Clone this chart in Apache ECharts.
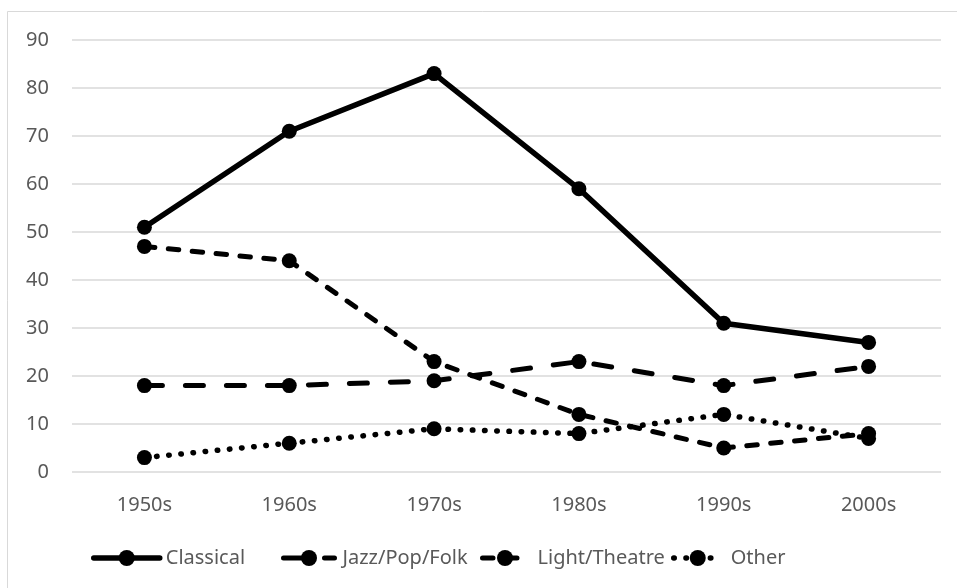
<!DOCTYPE html>
<html>
<head>
<meta charset="utf-8">
<script src="https://cdn.jsdelivr.net/npm/echarts@6/dist/echarts.min.js"></script>
<style>
html,body{margin:0;padding:0;background:#fff;}
#chart{width:957px;height:588px;}
</style>
</head>
<body>
<div id="chart"></div>
<script>
const categories = ['1950s', '1960s', '1970s', '1980s', '1990s', '2000s'];
const classical = [51, 71, 83, 59, 31, 27];
const jazzPopFolk = [18, 18, 19, 23, 18, 22];
const lightTheatre = [47, 44, 23, 12, 5, 8];
const other = [3, 6, 9, 8, 12, 7];
const yTicks = { min: 0, max: 90, interval: 10 };

const FONT = '"Noto Sans", sans-serif';
const TXT = '#595959';

const styles = {
  'Classical': { type: 'solid', width: 5.5 },
  'Jazz/Pop/Folk': { type: [18, 23], width: 5 },
  'Light/Theatre': { type: [10.5, 13.5], width: 5 },
  'Other': { type: [0.5, 11.7], width: 5.5 }
};

function mkSeries(name, data) {
  const s = styles[name];
  return {
    name: name,
    type: 'line',
    data: data,
    symbol: 'circle',
    symbolSize: 15,
    itemStyle: { color: '#000' },
    lineStyle: { color: '#000', width: s.width, type: s.type, cap: 'round', join: 'round' },
    emphasis: { disabled: true },
    animation: false
  };
}

function mkLegend(name, left, w, pad) {
  const s = styles[name];
  return {
    data: [name],
    left: left,
    top: 548,
    padding: 0,
    itemWidth: w,
    itemHeight: 20,
    lineStyle: { width: s.width, type: s.type, cap: 'round', color: '#000' },
    itemStyle: { color: '#000' },
    textStyle: { fontFamily: FONT, fontSize: 20, color: TXT, padding: [0, 0, 0, pad] },
    selectedMode: false
  };
}

const chart = echarts.init(document.getElementById('chart'), null, { renderer: 'canvas' });
chart.setOption({
  backgroundColor: '#fff',
  animation: false,
  graphic: [{
    type: 'rect',
    shape: { x: 7.5, y: 11.5, width: 1200, height: 1200 },
    style: { fill: 'none', stroke: '#d9d9d9', lineWidth: 1 },
    silent: true,
    z: -10
  }],
  grid: { left: 72, right: 16, top: 40, bottom: 116 },
  legend: [
    mkLegend('Classical', 91, 66, 1),
    mkLegend('Jazz/Pop/Folk', 281, 51, 3),
    mkLegend('Light/Theatre', 480, 45, 5),
    mkLegend('Other', 671, 48, 4)
  ],
  xAxis: {
    type: 'category',
    data: categories,
    boundaryGap: true,
    axisLine: { show: false },
    axisTick: { show: false },
    axisLabel: { fontFamily: FONT, fontSize: 20, color: TXT, margin: 23 }
  },
  yAxis: {
    type: 'value',
    min: yTicks.min,
    max: yTicks.max,
    interval: yTicks.interval,
    axisLine: { show: false },
    axisTick: { show: false },
    splitLine: { lineStyle: { color: '#d9d9d9', width: 1.5 } },
    axisLabel: { fontFamily: FONT, fontSize: 20, color: TXT, margin: 23 }
  },
  series: [
    mkSeries('Classical', classical),
    mkSeries('Jazz/Pop/Folk', jazzPopFolk),
    mkSeries('Light/Theatre', lightTheatre),
    mkSeries('Other', other)
  ]
});
</script>
</body>
</html>
